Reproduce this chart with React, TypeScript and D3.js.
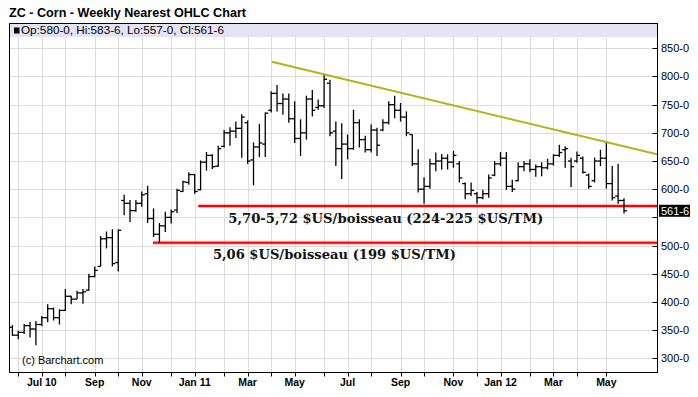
import React, { useEffect, useRef } from 'react';
import * as d3 from 'd3';

// weekly bars, the first one is the week of Mon May 31 2010
const firstWeek = new Date(2010, 4, 31);

const opens = [
  355, 341, 346, 358, 352, 360, 372, 388, 372, 385,
  410, 405, 416, 421, 445, 463, 512, 514, 470, 580,
  575, 562, 575, 592, 548, 520, 535, 550, 563, 596,
  612, 626, 599, 648, 660, 641, 676, 700, 703, 708,
  718, 652, 675, 680, 740, 770, 752, 760, 725, 690,
  700, 760, 745, 748, 788, 703, 672, 680, 672, 718,
  688, 670, 705, 705, 718, 750, 740, 728, 697, 645,
  600, 605, 645, 650, 655, 648, 645, 610, 592, 592,
  585, 592, 625, 645, 655, 605, 615, 640, 645, 635,
  640, 638, 645, 660, 670, 650, 650, 655, 625, 615,
  650, 655, 610, 588, 580
];
const highs = [
  359, 349, 361, 365, 366, 375, 396, 390, 387, 423,
  411, 420, 423, 450, 463, 517, 525, 529, 529, 590,
  581, 581, 596, 606, 566, 540, 560, 564, 601, 615,
  630, 627, 651, 666, 662, 677, 705, 710, 720, 733,
  722, 683, 716, 736, 774, 785, 770, 770, 756, 724,
  766, 776, 759, 803, 794, 720, 717, 697, 741, 724,
  695, 715, 709, 724, 756, 766, 753, 738, 697, 671,
  621, 654, 665, 662, 662, 668, 650, 612, 612, 595,
  599, 626, 650, 666, 666, 617, 648, 650, 653, 644,
  648, 654, 662, 679, 676, 656, 667, 658, 628, 656,
  670, 685, 641, 645, 583.75
];
const lows = [
  340, 334, 343, 337, 323, 357, 364, 367, 360, 384,
  396, 405, 397, 420, 444, 463, 495, 463, 454, 554,
  542, 560, 569, 540, 515, 505, 524, 539, 558, 595,
  608, 592, 598, 633, 636, 640, 674, 677, 691, 656,
  645, 607, 657, 657, 736, 738, 732, 718, 682, 659,
  688, 729, 741, 744, 694, 641, 618, 653, 670, 674,
  665, 665, 659, 703, 715, 726, 720, 694, 641, 594,
  574, 601, 632, 635, 635, 638, 612, 582, 588, 574,
  582, 585, 623, 641, 599, 595, 614, 632, 630, 622,
  623, 635, 642, 657, 638, 604, 647, 628, 601, 612,
  641, 601, 580, 574, 557
];
const closes = [
  341, 346, 358, 352, 360, 372, 388, 372, 385, 410,
  405, 416, 418, 445, 456, 512, 514, 468, 527, 575,
  562, 575, 590, 548, 520, 535, 550, 560, 598, 613,
  626, 596, 648, 660, 640, 672, 700, 703, 708, 728,
  650, 675, 682, 735, 770, 752, 760, 725, 690, 700,
  760, 740, 748, 795, 700, 672, 680, 672, 718, 688,
  670, 705, 678, 718, 750, 740, 728, 700, 645, 600,
  605, 645, 650, 655, 648, 660, 620, 592, 598, 585,
  592, 620, 645, 655, 605, 600, 640, 645, 635, 640,
  638, 645, 660, 665, 672, 640, 660, 630, 605, 650,
  655, 610, 585, 580, 561.75
];

const priceTicks = [300, 350, 400, 450, 500, 550, 600, 650, 700, 750, 800, 850];
const monthLabels = ['Jul 10', 'Sep', 'Nov', 'Jan 11', 'Mar', 'May', 'Jul', 'Sep', 'Nov', 'Jan 12', 'Mar', 'May'];

// drawn annotations (bar index / price)
const trendLine = [{ bar: 44.1, price: 826 }, { bar: 109.6, price: 662 }];
const supports = [
  { price: 570, fromBar: 31.6, labelBar: 36.7, label: '5,70-5,72 $US/boisseau (224-225 $US/TM)', width: 315 },
  { price: 505, fromBar: 23.9, labelBar: 34.1, label: '5,06 $US/boisseau (199 $US/TM)', width: 243 }
];
const lastQuote = 'Op:580-0, Hi:583-6, Lo:557-0, Cl:561-6';
const lastLabel = '561-6';

const W = 698;
const H = 397;
const left = 9.5, right = 657.5, top = 23.5, bandBottom = 37, bottom = 372.5;

const CornWeeklyChart = () => {
  const svgRef = useRef<SVGSVGElement>(null);

  useEffect(() => {
    const svg = d3.select(svgRef.current);
    svg.selectAll('*').remove();

    const x = d3.scaleLinear().domain([0, 104]).range([12.4, 624]);
    const y = d3.scaleLinear().domain([300, 850]).range([358.3, 48.3]);

    const bars = opens.map((o, i) => ({
      i, o, h: highs[i], l: lows[i], c: closes[i],
      date: d3.timeDay.offset(firstWeek, 7 * i)
    }));
    const monthStarts = bars.filter((d, i) => i > 0 && d.date.getMonth() !== bars[i - 1].date.getMonth());
    const labelled = monthStarts.filter(d => d.date.getMonth() % 2 === 0);

    svg.append('rect').attr('width', W).attr('height', H).attr('fill', '#fff');

    // grid
    svg.append('g').selectAll('line').data(monthStarts).join('line')
      .attr('x1', d => Math.round(x(d.i)) + 0.5).attr('x2', d => Math.round(x(d.i)) + 0.5)
      .attr('y1', bandBottom).attr('y2', bottom)
      .attr('stroke', '#dcdcdc');
    svg.append('g').selectAll('line').data(priceTicks).join('line')
      .attr('x1', left).attr('x2', right)
      .attr('y1', d => Math.round(y(d)) + 0.5).attr('y2', d => Math.round(y(d)) + 0.5)
      .attr('stroke', '#dcdcdc');

    // legend band
    svg.append('rect').attr('x', left).attr('y', top).attr('width', right - left).attr('height', bandBottom - top)
      .attr('fill', '#e4e4f6');
    svg.append('rect').attr('x', 14).attr('y', 27.5).attr('width', 5.5).attr('height', 6).attr('fill', '#000');
    svg.append('text').attr('x', 21).attr('y', 33.6)
      .attr('font-family', 'Liberation Sans, Arial, sans-serif').attr('font-size', 10.5)
      .attr('textLength', 203).attr('lengthAdjust', 'spacingAndGlyphs')
      .text(lastQuote);

    // support lines
    const sup = svg.append('g');
    supports.forEach(s => {
      sup.append('line').attr('x1', x(s.fromBar)).attr('x2', right)
        .attr('y1', y(s.price)).attr('y2', y(s.price))
        .attr('stroke', 'rgba(255,60,60,0.35)').attr('stroke-width', 4);
      sup.append('line').attr('x1', x(s.fromBar)).attr('x2', right)
        .attr('y1', y(s.price)).attr('y2', y(s.price))
        .attr('stroke', '#ff0000').attr('stroke-width', 2);
    });

    // OHLC bars
    const g = svg.append('g').attr('stroke', '#000').attr('stroke-width', 1.3);
    g.selectAll('line.hl').data(bars).join('line').attr('class', 'hl')
      .attr('x1', d => x(d.i)).attr('x2', d => x(d.i))
      .attr('y1', d => y(d.h)).attr('y2', d => y(d.l));
    g.selectAll('line.op').data(bars).join('line').attr('class', 'op')
      .attr('x1', d => x(d.i) - 3).attr('x2', d => x(d.i))
      .attr('y1', d => y(d.o)).attr('y2', d => y(d.o));
    g.selectAll('line.cl').data(bars).join('line').attr('class', 'cl')
      .attr('x1', d => x(d.i)).attr('x2', d => x(d.i) + 3)
      .attr('y1', d => y(d.c)).attr('y2', d => y(d.c));

    // trend line
    svg.append('path')
      .datum(trendLine)
      .attr('d', d3.line<{ bar: number; price: number }>().x(d => x(d.bar)).y(d => y(d.price)))
      .attr('fill', 'none').attr('stroke', '#b4b41c').attr('stroke-width', 2);

    // support labels
    supports.forEach(s => {
      svg.append('text').attr('x', x(s.labelBar)).attr('y', y(s.price) + 16.5)
        .attr('font-family', 'DejaVu Serif, serif').attr('font-weight', 'bold').attr('font-size', 12.5)
        .attr('fill', '#111')
        .attr('textLength', s.width).attr('lengthAdjust', 'spacingAndGlyphs')
        .text(s.label);
    });

    svg.append('text').attr('x', 22).attr('y', 364)
      .attr('font-family', 'Liberation Sans, Arial, sans-serif').attr('font-size', 11)
      .text('(c) Barchart.com');

    // frame
    svg.append('rect').attr('x', left).attr('y', top).attr('width', right - left).attr('height', bottom - top)
      .attr('fill', 'none').attr('stroke', '#000');

    // right axis
    const ax = svg.append('g');
    ax.selectAll('line').data(priceTicks).join('line')
      .attr('x1', right - 5).attr('x2', right)
      .attr('y1', d => Math.round(y(d)) + 0.5).attr('y2', d => Math.round(y(d)) + 0.5)
      .attr('stroke', '#000');
    ax.selectAll('text').data(priceTicks.filter(v => Math.abs(y(v) - y(561.75)) > 10)).join('text')
      .attr('x', 661).attr('y', d => y(d)).attr('dy', '0.36em')
      .attr('font-family', 'Liberation Sans, Arial, sans-serif').attr('font-size', 11)
      .text(d => `${d}-0`);
    ax.append('rect').attr('x', 659).attr('y', y(561.75) - 6).attr('width', 31).attr('height', 12).attr('fill', '#000');
    ax.append('text').attr('x', 661).attr('y', y(561.75)).attr('dy', '0.36em')
      .attr('font-family', 'Liberation Sans, Arial, sans-serif').attr('font-size', 11).attr('fill', '#fff')
      .text(lastLabel);

    // bottom axis
    svg.append('g').selectAll('line').data(monthStarts).join('line')
      .attr('x1', d => Math.round(x(d.i)) + 0.5).attr('x2', d => Math.round(x(d.i)) + 0.5)
      .attr('y1', bottom).attr('y2', bottom + 4)
      .attr('stroke', '#000');
    svg.append('g').selectAll('text').data(labelled).join('text')
      .attr('x', d => x(d.i)).attr('y', 386)
      .attr('text-anchor', 'middle')
      .attr('font-family', 'Liberation Sans, Arial, sans-serif').attr('font-weight', 'bold').attr('font-size', 10.5)
      .text((d, k) => monthLabels[k]);

    // title
    svg.append('text').attr('x', 9).attr('y', 17)
      .attr('font-family', 'Liberation Sans, Arial, sans-serif').attr('font-weight', 'bold').attr('font-size', 13)
      .attr('textLength', 237).attr('lengthAdjust', 'spacingAndGlyphs')
      .text('ZC - Corn - Weekly Nearest OHLC Chart');
  }, []);

  return <svg ref={svgRef} width={W} height={H} style={{ position: 'absolute', left: 0, top: 0 }}></svg>;
};

export default CornWeeklyChart;
